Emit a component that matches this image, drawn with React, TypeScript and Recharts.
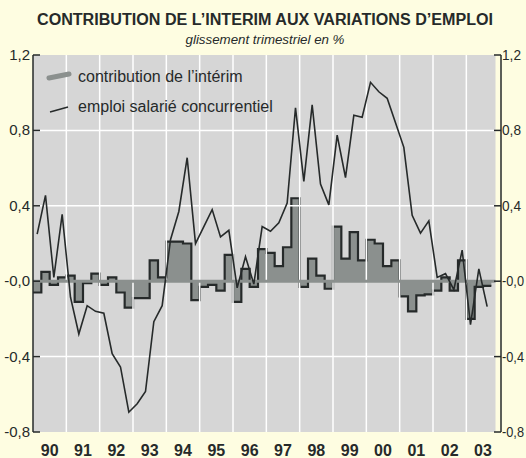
import React from 'react';
import {
  ComposedChart,
  Area,
  Line,
  XAxis,
  YAxis,
  ReferenceLine,
  ReferenceArea,
  Legend,
} from 'recharts';

const C = {
  page: '#fefde1',
  plot: '#d6d6d6',
  grid: '#ffffff',
  fill: '#8b908e',
  ink: '#262a2a',
  font: '"Liberation Sans", Arial, Helvetica, sans-serif',
};

// one label per year, 1990..2003
const years = ['90', '91', '92', '93', '94', '95', '96', '97', '98', '99', '00', '01', '02', '03'];

// quarterly contribution of temp work, 1990Q1..2003Q3
const interim = [
  -0.06, 0.05, -0.02, 0.02, 0.03, -0.11, -0.01, 0.04, -0.02, 0.02, -0.06, -0.14,
  -0.09, -0.09, 0.11, 0.02, 0.21, 0.21, 0.2, -0.1, -0.03, -0.02, -0.05, 0.14,
  -0.11, 0.065, -0.03, 0.17, 0.15, 0.08, 0.18, 0.44, -0.03, 0.12, 0.03, -0.04,
  0.29, 0.12, 0.26, 0.11, 0.22, 0.2, 0.08, 0.11, -0.08, -0.16, -0.075, -0.07,
  -0.05, 0.02, -0.05, 0.11, -0.2, -0.03, -0.025,
];

// quarterly change of private salaried employment
const emploi = [
  0.25, 0.455, 0.02, 0.355, -0.085, -0.28, -0.13, -0.16, -0.17, -0.385, -0.455, -0.695,
  -0.65, -0.585, -0.215, -0.13, 0.22, 0.37, 0.655, 0.2, 0.29, 0.38, 0.235, 0.27,
  -0.035, 0.13, -0.015, 0.29, 0.265, 0.31, 0.415, 0.92, 0.53, 0.935, 0.515, 0.405,
  0.775, 0.55, 0.88, 0.87, 1.055, 1.005, 0.97, 0.84, 0.71, 0.35, 0.255, 0.32,
  0.02, 0.04, -0.045, 0.165, -0.23, 0.065, -0.135,
];

const yTicks = [-0.8, -0.4, 0, 0.4, 0.8, 1.2];
const hGrid = [-0.4, 0.4, 0.8];

// step area: each quarter starts at q, last step closed at the end
const interimData = interim.map((v, i) => ({ q: i, v }));
interimData.push({ q: interim.length, v: interim[interim.length - 1] });
// line points sit mid-quarter
const emploiData = emploi.map((v, i) => ({ q: i + 0.5, v }));

const yearCenters = years.map((_, k) => k * 4 + 2);
const yearBounds = years.slice(1).map((_, k) => (k + 1) * 4);
const plotEnd = 55.5;

const fmt = (v: number) => (v <= 0 ? '-' : '') + Math.abs(v).toFixed(1).replace('.', ',');

const LeftTick = (p: any) => {
  const { x, y, payload } = p;
  return (
    <g>
      <line x1={x + 3} x2={x + 10} y1={y} y2={y} stroke={C.ink} strokeWidth={1.5} />
      <text x={x} y={y} dy={5} textAnchor="end" fontSize={15} fill={C.ink} fontFamily={C.font}>
        {fmt(payload.value)}
      </text>
    </g>
  );
};

// right labels run to the page edge, so they are squeezed a little
const RightTick = (p: any) => {
  const { x, y, payload } = p;
  const label = fmt(payload.value);
  return (
    <g>
      <line x1={x - 3} x2={x - 10} y1={y} y2={y} stroke={C.ink} strokeWidth={1.5} />
      <text x={x - 2} y={y} dy={5} textAnchor="start" fontSize={14} fill={C.ink} fontFamily={C.font}
        textLength={label.length > 3 ? 22 : 19} lengthAdjust="spacingAndGlyphs">
        {label}
      </text>
    </g>
  );
};

const LegendBox = () => (
  <svg width={260} height={62} style={{ display: 'block' }}>
    <path d="M9 18 L29 14" stroke={C.fill} strokeWidth={5} strokeLinecap="round" />
    <text x={38} y={21.5} fontSize={16} fill={C.ink} fontFamily={C.font}>
      contribution de l’intérim
    </text>
    <path d="M10 52 L28 47" stroke={C.ink} strokeWidth={1.6} />
    <text x={38} y={51.5} fontSize={16} fill={C.ink} fontFamily={C.font}>
      emploi salarié concurrentiel
    </text>
  </svg>
);

export default function App() {
  return (
    <div style={{ position: 'absolute', left: 0, top: 0, width: 526, height: 458, background: C.page }}>
      <svg width={526} height={50} style={{ position: 'absolute', left: 0, top: 0 }}>
        <text x={265} y={25} textAnchor="middle" fontSize={16} fontWeight="bold" fill={C.ink}
          fontFamily={C.font} textLength={456} lengthAdjust="spacingAndGlyphs">
          CONTRIBUTION DE L’INTERIM AUX VARIATIONS D’EMPLOI
        </text>
        <text x={265} y={43.5} textAnchor="middle" fontSize={13.3} fontStyle="italic" fill={C.ink} fontFamily={C.font}>
          glissement trimestriel en %
        </text>
      </svg>

      <ComposedChart width={526} height={458} margin={{ top: 55, right: 0, bottom: 0, left: 3 }}>
        <XAxis
          type="number"
          dataKey="q"
          domain={[0, 56.16]}
          ticks={yearCenters}
          tickFormatter={(v: number) => years[(v - 2) / 4]}
          axisLine={false}
          tickLine={false}
          tickSize={0}
          tickMargin={13}
          height={26}
          interval={0}
          tick={{ fontSize: 16, fontWeight: 'bold', fill: C.ink, fontFamily: C.font }}
        />
        <YAxis
          yAxisId="left"
          type="number"
          domain={[-0.8, 1.2]}
          ticks={yTicks}
          width={30}
          tickSize={0}
          tickMargin={3}
          tickLine={false}
          interval={0}
          axisLine={{ stroke: C.ink, strokeWidth: 1.5 }}
          tick={<LeftTick />}
        />
        <YAxis
          yAxisId="right"
          orientation="right"
          type="number"
          domain={[-0.8, 1.2]}
          ticks={yTicks}
          width={25}
          tickSize={0}
          tickMargin={3}
          tickLine={false}
          interval={0}
          axisLine={{ stroke: C.ink, strokeWidth: 1.5 }}
          tick={<RightTick />}
        />

        <ReferenceArea yAxisId="left" x1={0} x2={plotEnd} y1={-0.8} y2={1.2} fill={C.plot} fillOpacity={1} stroke="none" />
        {yearBounds.map((b) => (
          <ReferenceLine key={'v' + b} yAxisId="left" segment={[{ x: b, y: -0.8 }, { x: b, y: 1.2 }]} stroke={C.grid} strokeWidth={1.5} />
        ))}
        {hGrid.map((g) => (
          <ReferenceLine key={'h' + g} yAxisId="left" segment={[{ x: 0, y: g }, { x: plotEnd, y: g }]} stroke={C.grid} strokeWidth={1.5} />
        ))}
        <ReferenceLine yAxisId="left" segment={[{ x: 0, y: 0 }, { x: plotEnd, y: 0 }]} stroke={C.fill} strokeWidth={3} />

        <Area
          yAxisId="left"
          data={interimData}
          dataKey="v"
          type="stepAfter"
          baseValue={0}
          fill={C.fill}
          fillOpacity={1}
          stroke={C.ink}
          strokeWidth={2.2}
          isAnimationActive={false}
        />
        <Line
          yAxisId="right"
          data={emploiData}
          dataKey="v"
          type="linear"
          stroke={C.ink}
          strokeWidth={1.6}
          dot={false}
          isAnimationActive={false}
        />

        <Legend
          layout="vertical"
          align="center"
          verticalAlign="middle"
          wrapperStyle={{ left: 40, top: 60, width: 260, height: 62 }}
          content={() => <LegendBox />}
        />
      </ComposedChart>
    </div>
  );
}
